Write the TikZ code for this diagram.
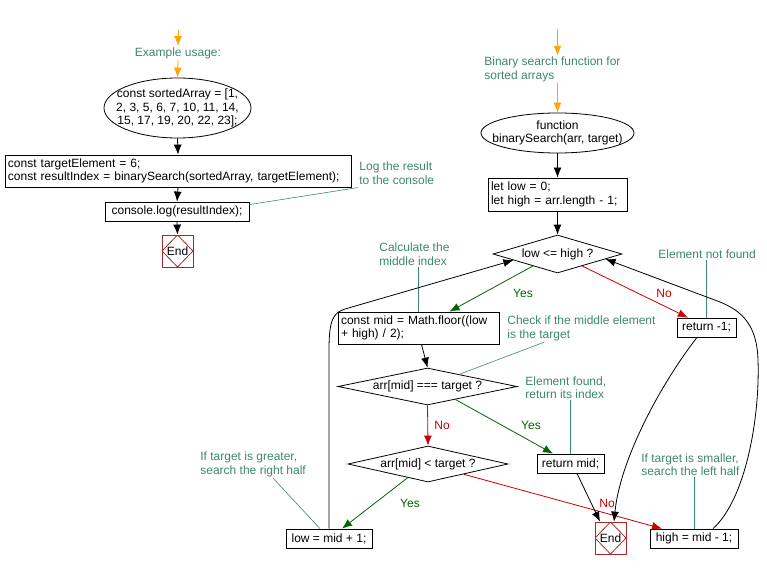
\documentclass[tikz,border=0pt]{standalone}
\usepackage{fontspec}
\setmainfont{Liberation Sans}
\usetikzlibrary{shapes.geometric,arrows.meta}
\definecolor{notegreen}{RGB}{60,135,110}
\definecolor{yesgreen}{RGB}{0,100,0}
\definecolor{nored}{RGB}{204,0,0}
\definecolor{endred}{RGB}{170,40,40}
\definecolor{startorange}{RGB}{255,165,0}

\begin{document}
\begin{tikzpicture}[x=1pt,y=-1pt,line width=0.8pt,font=\fontsize{12}{13.5}\selectfont,
  proc/.style={draw,rectangle,inner xsep=3pt,inner ysep=1pt,align=left},
  term/.style={draw,ellipse,inner sep=0pt},
  decision/.style={draw,diamond,inner sep=0pt},
  endbox/.style={draw=endred,rectangle,minimum width=31pt,minimum height=32pt,inner sep=0pt,
    path picture={\draw[endred] (path picture bounding box.north) -- (path picture bounding box.east)
      -- (path picture bounding box.south) -- (path picture bounding box.west) -- cycle;}},
  note/.style={text=notegreen,align=left,inner sep=1pt},
  noteline/.style={draw=notegreen,line width=0.6pt},
  arr/.style={-{Latex[length=10pt,width=8pt]}},
  startarr/.style={arr,draw=startorange},
  yes/.style={arr,draw=yesgreen},
  no/.style={arr,draw=nored},
  yeslab/.style={text=yesgreen,inner sep=0pt},
  nolab/.style={text=nored,inner sep=0pt}]
\useasboundingbox (0,0) rectangle (767,569);

% example usage
\coordinate (lstart) at (178,30);
\node[note] (exnote) at (178,53) {Example usage:};
\node[term,minimum width=147pt,minimum height=60pt,
  label={[align=center]center:{const sortedArray = [1,\\2, 3, 5, 6, 7, 10, 11, 14,\\15, 17, 19, 20, 22, 23];}}] (arrdef) at (177.5,108) {};
\node[proc,text width=340pt,minimum height=32pt] (call) at (178,171) {const targetElement = 6;\\const resultIndex = binarySearch(sortedArray, targetElement);};
\node[proc,align=center,minimum width=144pt,minimum height=19pt] (cons) at (177,211.5) {console.log(resultIndex);};
\node[endbox] (endA) at (177.5,251) {End};
\node[note,anchor=west] (lognote) at (358,173) {Log the result\\to the console};

\draw[startarr] (lstart) -- (exnote.north);
\draw[startarr] (exnote.south) -- (arrdef.north);
\draw[arr] (arrdef.south) -- (call.north);
\draw[arr] (call.south) -- (cons.north);
\draw[arr] (cons.south) -- (endA.north);
\draw[noteline] ([yshift=-3pt]cons.north east) -- ([yshift=-2pt]lognote.south west);

% binary search function
\coordinate (rstart) at (557.5,29);
\node[note,anchor=west] (fnnote) at (483,69.5) {Binary search function for\\sorted arrays};
\node[term,minimum width=153pt,minimum height=40pt,
  label={[align=center]center:{function\\binarySearch(arr, target)}}] (fndef) at (557.5,133) {};
\node[proc,text width=133pt,minimum height=33pt] (init) at (557.5,194.5) {let low = 0;\\let high = arr.length - 1;};
\node[decision,minimum width=129pt,minimum height=38pt,label=center:{low <= high ?}] (loop) at (557.5,254) {};
\node[proc,text width=155pt,minimum height=32pt] (mid) at (418.5,328) {const mid = Math.floor((low\\+ high) / 2);};
\node[proc,align=center,minimum width=59pt,minimum height=19pt] (notfound) at (706.5,327.5) {return -1;};
\node[decision,minimum width=179pt,minimum height=37pt,label=center:{arr[mid] === target ?}] (found) at (427.5,386.5) {};
\node[decision,minimum width=160pt,minimum height=36pt,label=center:{arr[mid] < target ?}] (less) at (428,464) {};
\node[proc,align=center,minimum width=67pt,minimum height=19pt] (retmid) at (570.5,463.5) {return mid;};
\node[proc,align=center,minimum width=86pt,minimum height=19pt] (lowup) at (329,538.5) {low = mid + 1;};
\node[proc,align=center,minimum width=88pt,minimum height=19pt] (highdown) at (694,538.5) {high = mid - 1;};
\node[endbox] (endB) at (610.5,538) {End};

% comments
\node[note,anchor=west] (calcnote) at (378,254) {Calculate the\\middle index};
\node[note,anchor=west] (nfnote) at (657,254) {Element not found};
\node[note,anchor=west] (chknote) at (506,328.5) {Check if the middle element\\is the target};
\node[note,anchor=west] (foundnote) at (524,387.5) {Element found,\\return its index};
\node[note,anchor=west] (smallnote) at (640,464.5) {If target is smaller,\\search the left half};
\node[note,anchor=west] (greatnote) at (199,464.5) {If target is greater,\\search the right half};

\draw[noteline] (mid.north) -- (mid.north |- calcnote.south);
\draw[noteline] (notfound.north) -- (notfound.north |- nfnote.south);
\draw[noteline] ([xshift=38pt]chknote.south west) -- (found.21);
\draw[noteline] (retmid.north) -- (retmid.north |- foundnote.south);
\draw[noteline] (highdown.north) -- (highdown.north |- smallnote.south);
\draw[noteline] ([xshift=20pt]greatnote.south) -- ([xshift=-9pt]lowup.north);

% flow
\draw[startarr] (rstart) -- (rstart |- fnnote.north);
\draw[startarr] (rstart |- fnnote.south) -- (fndef.north);
\draw[arr] (fndef.south) -- (init.north);
\draw[arr] (init.south) -- (loop.north);
\draw[yes] (loop.206) -- ([xshift=31pt]mid.north);
\node[yeslab] (yesA) at (523,293) {Yes};
\draw[no] (loop.334) -- ([xshift=-18.5pt]notfound.north);
\node[nolab] (noA) at (664,293) {No};
\draw[arr] ([xshift=3pt]mid.south) -- (found.north);
\draw[yes] (found.335) -- ([xshift=-17.5pt]retmid.north);
\node[yeslab] (yesB) at (531,425) {Yes};
\draw[no] (found.south) -- (less.north);
\node[nolab] (noB) at (442,425) {No};
\draw[yes] (less.214) -- ([xshift=13pt]lowup.north);
\node[yeslab] (yesC) at (410,503) {Yes};
\draw[no] (less.344) -- ([xshift=-32pt]highdown.north);
\node[nolab] (noC) at (607,503) {No};
\draw[arr] ([xshift=6.5pt]retmid.south) -- ([xshift=-10.5pt]endB.north);
\draw[arr] ([xshift=-9.5pt]notfound.south) .. controls (660,385) and (620,460) .. ([xshift=3.5pt]endB.north);
\draw[arr] ([xshift=19pt]highdown.north) .. controls (745,500) and (760,420) .. (758,360)
  .. controls (757,325) and (742,311) .. (720,302) -- (loop.354);
\draw[arr] (lowup.north) -- (329,350) .. controls (329,320) and (333,313) .. (345,309) -- (loop.188);

\end{tikzpicture}
\end{document}
